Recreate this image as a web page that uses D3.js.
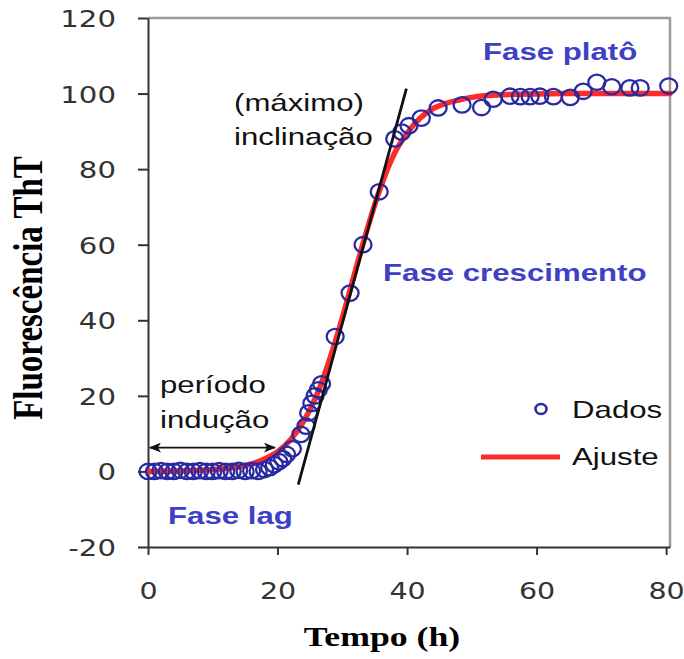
<!DOCTYPE html>
<html>
<head>
<meta charset="utf-8">
<script src="https://cdn.jsdelivr.net/npm/d3@7"></script>
<style>
  body { margin: 0; background: #fff; }
</style>
</head>
<body>
<div id="container"></div>
<script>
const w = 684;
const h = 659;

// measured data (tempo em h, fluorescência)
const dataT = [0, 1, 2, 3, 4, 5, 6, 7, 8, 9, 10, 11, 12, 13, 14, 15, 16, 17, 18,
  18.8, 19.5, 20.2, 20.8, 21.4, 22.3, 23.6, 24.4, 24.8, 25.3, 25.8, 26.3, 26.8,
  28.9, 31.2, 33.2, 35.7, 38.1, 39.2, 40.3, 42.2, 44.8, 48.5, 51.5, 53.3, 55.9,
  57.5, 59, 60.5, 62.6, 65.2, 67.2, 69.3, 71.6, 74.4, 76, 80.4];
const dataV = [0, 0, 0.2, 0, 0, 0.3, 0, 0, 0.2, 0, 0, 0.2, 0, 0, 0.3, 0, 0.2, 0, 0.5,
  1, 1.8, 2.6, 3.4, 4.5, 6, 9.8, 12, 15.5, 18, 20, 21.6, 23.2,
  35.7, 47.2, 60, 74, 88, 89.8, 91.5, 93.5, 96.2, 97, 96.3, 98.5, 99.3,
  99.2, 99.2, 99.3, 99.2, 99, 100.6, 103, 101.8, 101.5, 101.5, 102];

// red fit curve
const fitT = [0, 4, 8, 12, 14, 16, 18, 20, 22, 24, 26, 28, 30, 32, 34, 36, 38, 40,
  42, 44, 46, 48, 50, 55, 60, 65, 70, 75, 80.6];
const fitV = [0, 0.1, 0.3, 0.8, 1.2, 2, 3.3, 5.2, 8.4, 13.2, 20, 29.4, 40.6, 53, 65,
  75.6, 84, 89.5, 93.5, 96, 97.4, 98.3, 99, 99.7, 99.9, 100, 100, 100, 100];

// tangent line (maximum slope)
const slopeT = [23.2, 39.9];
const slopeV = [-3.5, 101.3];

const xTicks = [0, 20, 40, 60, 80];
const yTicks = [-20, 0, 20, 40, 60, 80, 100, 120];

const sx = 1.3; // the original image is stretched horizontally
const blue = "#4040c4";
const dark = "#2a2aa0";

const svg = d3.select("#container")
  .append("svg")
  .attr("width", w)
  .attr("height", h);

const xScale = d3.scaleLinear().domain([0, 80.6]).range([148, 670]);
const yScale = d3.scaleLinear().domain([-20, 120]).range([547, 18]);

// frame (top and right, grey)
svg.append("path")
  .attr("d", `M${xScale(0)},${yScale(120)}H${xScale(80.6)}V${yScale(-20)}`)
  .attr("fill", "none")
  .attr("stroke", "#9a9a9a")
  .attr("stroke-width", 2.5);

const xAxis = d3.axisBottom(xScale).tickValues(xTicks).tickSize(8).tickSizeOuter(0)
  .tickFormat((d) => String(d));
const yAxis = d3.axisLeft(yScale).tickValues(yTicks).tickSize(10).tickSizeOuter(0)
  .tickFormat((d) => String(d));

const gx = svg.append("g")
  .attr("transform", "translate(0," + yScale(-20) + ")")
  .call(xAxis);
const gy = svg.append("g")
  .attr("transform", "translate(" + xScale(0) + ",0)")
  .call(yAxis);

[gx, gy].forEach((g) => {
  g.select(".domain").attr("stroke", "#333").attr("stroke-width", 2);
  g.selectAll(".tick line").attr("stroke", "#333").attr("stroke-width", 2);
  g.selectAll(".tick text")
    .attr("fill", "#333")
    .style("font-family", "DejaVu Sans")
    .style("font-size", "23px");
});
gx.selectAll(".tick text")
  .attr("y", 0).attr("dy", null)
  .attr("transform", "translate(0,52) scale(1.24,1)");
gy.selectAll(".tick text")
  .attr("x", 0).attr("dy", null)
  .attr("transform", "translate(-32,8.5) scale(1.27,1)");

// fit curve
const line = d3.line()
  .x((d) => xScale(d[0]))
  .y((d) => yScale(d[1]))
  .curve(d3.curveMonotoneX);

svg.append("path")
  .datum(fitT.map((t, i) => [t, fitV[i]]))
  .attr("d", line)
  .attr("fill", "none")
  .attr("stroke", "#ff2a2a")
  .attr("stroke-width", 5.5)
  .attr("stroke-linecap", "round");

// data points
svg.selectAll("ellipse.pt")
  .data(dataT.map((t, i) => [t, dataV[i]]))
  .enter()
  .append("ellipse")
  .attr("class", "pt")
  .attr("cx", (d) => xScale(d[0]))
  .attr("cy", (d) => yScale(d[1]))
  .attr("rx", 8.5)
  .attr("ry", 7.7)
  .attr("fill", "none")
  .attr("stroke", dark)
  .attr("stroke-width", 2.3);

// tangent
svg.append("line")
  .attr("x1", xScale(slopeT[0]))
  .attr("y1", yScale(slopeV[0]))
  .attr("x2", xScale(slopeT[1]))
  .attr("y2", yScale(slopeV[1]))
  .attr("stroke", "#111")
  .attr("stroke-width", 2.8);

// double arrow for the induction period
svg.append("defs")
  .append("marker")
  .attr("id", "head")
  .attr("viewBox", "0 0 12 10")
  .attr("refX", 11)
  .attr("refY", 5)
  .attr("markerWidth", 12)
  .attr("markerHeight", 10)
  .attr("markerUnits", "userSpaceOnUse")
  .attr("orient", "auto-start-reverse")
  .append("path")
  .attr("d", "M0,0L12,5L0,10L3,5Z")
  .attr("fill", "#111");

svg.append("line")
  .attr("x1", xScale(0.3))
  .attr("y1", yScale(6.3))
  .attr("x2", xScale(19.6))
  .attr("y2", yScale(6.3))
  .attr("stroke", "#111")
  .attr("stroke-width", 1.6)
  .attr("marker-start", "url(#head)")
  .attr("marker-end", "url(#head)");

function label(x, y, str, o) {
  svg.append("text")
    .attr("transform", `translate(${x},${y}) scale(${sx},1)` + (o.rotate ? " rotate(-90)" : ""))
    .attr("text-anchor", o.anchor || "start")
    .attr("fill", o.color || "#111")
    .style("font-family", o.font || "Liberation Sans")
    .style("font-weight", o.bold ? "bold" : "normal")
    .style("font-size", o.size + "px")
    .text(str);
}

label(234, 111, "(máximo)", { size: 24 });
label(234, 145, "inclinação", { size: 24 });
label(160, 393, "período", { size: 24 });
label(160, 428, "indução", { size: 24 });

label(483, 60, "Fase platô", { size: 24, bold: true, color: blue });
label(383, 281, "Fase crescimento", { size: 24, bold: true, color: blue });
label(168, 524, "Fase lag", { size: 24, bold: true, color: blue });

// legend
svg.append("ellipse")
  .attr("cx", 541).attr("cy", 409)
  .attr("rx", 5.5).attr("ry", 5)
  .attr("fill", "none")
  .attr("stroke", dark)
  .attr("stroke-width", 2.6);
label(572, 418, "Dados", { size: 24 });
svg.append("line")
  .attr("x1", 481).attr("x2", 560)
  .attr("y1", 457).attr("y2", 457)
  .attr("stroke", "#ff2a2a")
  .attr("stroke-width", 5);
label(572, 465, "Ajuste", { size: 24 });

// axis titles
label(382, 646, "Tempo (h)", { size: 27.5, bold: true, anchor: "middle", font: "Liberation Serif", color: "#000" });
label(42, 288, "Fluorescência ThT", { size: 33, bold: true, anchor: "middle", font: "Liberation Serif", color: "#000", rotate: true });
</script>
</body>
</html>
